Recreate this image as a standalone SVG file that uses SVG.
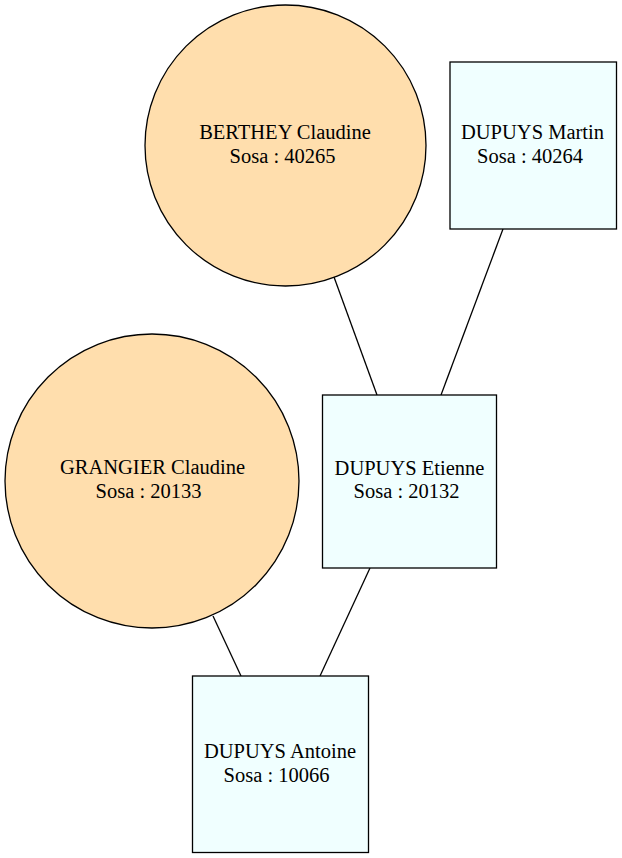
<svg xmlns="http://www.w3.org/2000/svg" width="622" height="858" viewBox="0 0 622 858">
<style>
.circ{fill:#ffdead;stroke:#000;stroke-width:1.3}
.box{fill:#f0ffff;stroke:#000;stroke-width:1.3}
.edge{stroke:#000;stroke-width:1.3;fill:none}
text{font-family:'Liberation Serif','Times New Roman',Times,'DejaVu Serif',serif;font-size:20.5px;fill:#000;text-anchor:middle}
</style>
<rect width="622" height="858" fill="#fff"/>
<g id="edges">
<line class="edge" x1="334" y1="277" x2="377" y2="395"/>
<line class="edge" x1="503" y1="229" x2="441" y2="395"/>
<line class="edge" x1="370" y1="568" x2="320" y2="676"/>
<line class="edge" x1="213" y1="616" x2="241" y2="676"/>
</g>
<g id="berthey">
<circle class="circ" cx="285.5" cy="145.5" r="140.5"/>
<text x="285" y="139" font-family="Liberation Serif, serif">BERTHEY Claudine</text>
<text x="282.5" y="162.5" font-family="Liberation Serif, serif">Sosa : 40265</text>
</g>
<g id="martin">
<rect class="box" x="450" y="62" width="166.5" height="167"/>
<text x="532.5" y="139">DUPUYS Martin</text>
<text x="530" y="162.5">Sosa : 40264</text>
</g>
<g id="grangier">
<circle class="circ" cx="152" cy="481" r="147"/>
<text x="152.5" y="473.5">GRANGIER Claudine</text>
<text x="148.5" y="497.5">Sosa : 20133</text>
</g>
<g id="etienne">
<rect class="box" x="322.5" y="395" width="174" height="173"/>
<text x="409.5" y="474.5">DUPUYS Etienne</text>
<text x="406.5" y="498">Sosa : 20132</text>
</g>
<g id="antoine">
<rect class="box" x="192.5" y="676" width="176" height="176.5"/>
<text x="280" y="757.5">DUPUYS Antoine</text>
<text x="276.5" y="781.5">Sosa : 10066</text>
</g>
</svg>
